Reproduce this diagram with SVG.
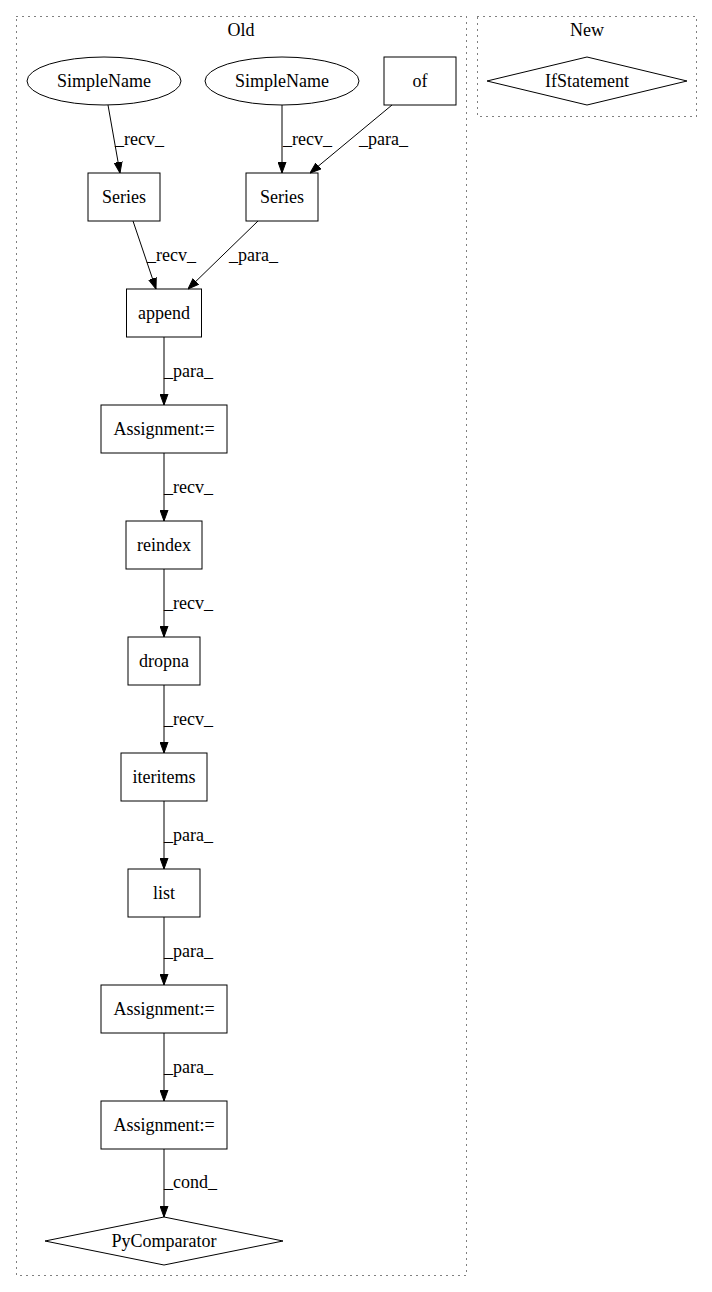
<svg xmlns="http://www.w3.org/2000/svg" width="712" height="1292" viewBox="0 0 712 1292">
<style>
text{font-family:"Liberation Serif","Times New Roman",serif;font-size:18px;fill:#000}
.n{text-anchor:middle}
.shape{fill:none;stroke:#000;stroke-width:1}
.cl{fill:none;stroke:#000;stroke-width:1;stroke-dasharray:1,5}
.e{fill:none;stroke:#000;stroke-width:1;marker-end:url(#ah)}
</style>
<defs>
<marker id="ah" markerUnits="userSpaceOnUse" markerWidth="11" markerHeight="9" refX="11" refY="4.5" orient="auto">
<path d="M0,0.5 L11,4.5 L0,8.5 z" fill="#000" stroke="#000" stroke-width="1"/>
</marker>
</defs>
<rect width="712" height="1292" fill="#fff"/>
<g id="cluster_old">
<rect class="cl" x="16.5" y="16.5" width="450" height="1259"/>
<text class="n" x="241" y="36">Old</text>
</g>
<g id="cluster_new">
<rect class="cl" x="477.5" y="16.5" width="219" height="100"/>
<text class="n" x="587" y="36">New</text>
</g>
<g id="edges">
<path class="e" d="M108,105 L120,173"/>
<text x="115" y="145">_recv_</text>
<path class="e" d="M282,105 L282,173"/>
<text x="283" y="145">_recv_</text>
<path class="e" d="M392,105 L310,173"/>
<text x="359" y="145">_para_</text>
<path class="e" d="M133,221 L156,289"/>
<text x="147" y="261">_recv_</text>
<path class="e" d="M258,221 L188,289"/>
<text x="229" y="261">_para_</text>
<path class="e" d="M164,337 L164,405"/>
<text x="164" y="377">_para_</text>
<path class="e" d="M164,453 L164,521"/>
<text x="164" y="493">_recv_</text>
<path class="e" d="M164,569 L164,637"/>
<text x="164" y="609">_recv_</text>
<path class="e" d="M164,685 L164,753"/>
<text x="164" y="725">_recv_</text>
<path class="e" d="M164,801 L164,869"/>
<text x="164" y="841">_para_</text>
<path class="e" d="M164,917 L164,985"/>
<text x="164" y="957">_para_</text>
<path class="e" d="M164,1033 L164,1101"/>
<text x="164" y="1073">_para_</text>
<path class="e" d="M164,1149 L164,1217"/>
<text x="164" y="1188">_cond_</text>
</g>
<g id="n_simplename1">
<ellipse class="shape" cx="104" cy="81" rx="77" ry="24"/>
<text class="n" x="104" y="86.5">SimpleName</text>
</g>
<g id="n_simplename2">
<ellipse class="shape" cx="282" cy="81" rx="77" ry="24"/>
<text class="n" x="282" y="86.5">SimpleName</text>
</g>
<g id="n_of">
<rect class="shape" x="384" y="57" width="72" height="48"/>
<text class="n" x="420" y="86.5">of</text>
</g>
<g id="n_series1">
<rect class="shape" x="88" y="173" width="72" height="48"/>
<text class="n" x="124" y="202.5">Series</text>
</g>
<g id="n_series2">
<rect class="shape" x="246" y="173" width="72" height="48"/>
<text class="n" x="282" y="202.5">Series</text>
</g>
<g id="n_append">
<rect class="shape" x="126.5" y="289" width="75" height="48"/>
<text class="n" x="164" y="318.5">append</text>
</g>
<g id="n_assign1">
<rect class="shape" x="101" y="405" width="126" height="48"/>
<text class="n" x="164" y="434.5">Assignment:=</text>
</g>
<g id="n_reindex">
<rect class="shape" x="126" y="521" width="76" height="48"/>
<text class="n" x="164" y="550.5">reindex</text>
</g>
<g id="n_dropna">
<rect class="shape" x="128" y="637" width="72" height="48"/>
<text class="n" x="164" y="666.5">dropna</text>
</g>
<g id="n_iteritems">
<rect class="shape" x="121" y="753" width="86" height="48"/>
<text class="n" x="164" y="782.5">iteritems</text>
</g>
<g id="n_list">
<rect class="shape" x="128" y="869" width="72" height="48"/>
<text class="n" x="164" y="898.5">list</text>
</g>
<g id="n_assign2">
<rect class="shape" x="101" y="985" width="126" height="48"/>
<text class="n" x="164" y="1014.5">Assignment:=</text>
</g>
<g id="n_assign3">
<rect class="shape" x="101" y="1101" width="126" height="48"/>
<text class="n" x="164" y="1130.5">Assignment:=</text>
</g>
<g id="n_pycomparator">
<polygon class="shape" points="164,1217 283,1241 164,1265 45,1241"/>
<text class="n" x="164" y="1246.5">PyComparator</text>
</g>
<g id="n_ifstatement">
<polygon class="shape" points="587,57 687,81 587,105 487,81"/>
<text class="n" x="587" y="86.5">IfStatement</text>
</g>
</svg>
